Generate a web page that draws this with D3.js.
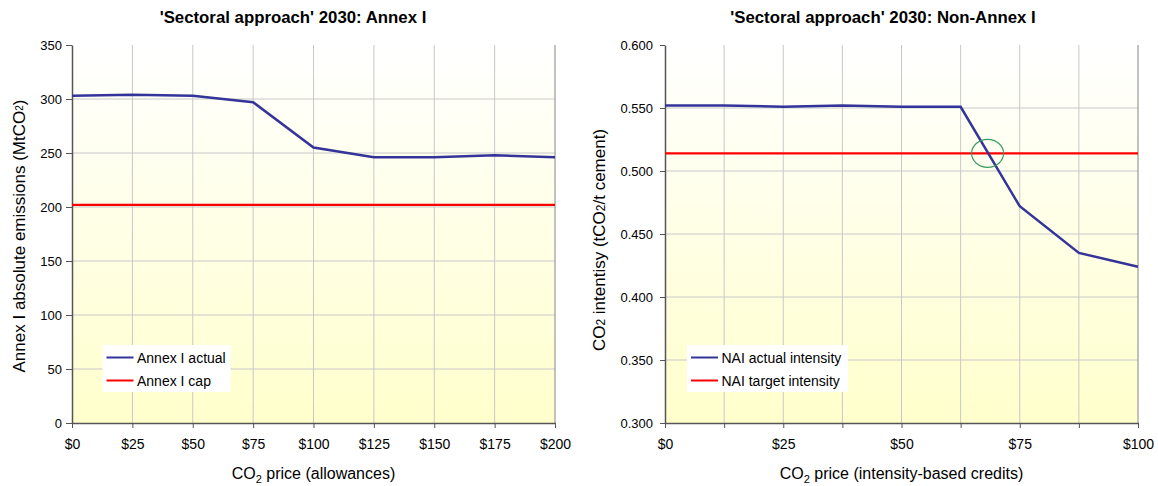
<!DOCTYPE html>
<html><head><meta charset="utf-8">
<script src="https://cdn.jsdelivr.net/npm/d3@7"></script>
<style>body{margin:0;background:#fff;font-family:"Liberation Sans",Arial,sans-serif}</style>
</head><body>
<svg id="c" width="1158" height="486" font-family="Liberation Sans, Arial, sans-serif"></svg>
<script>
const leftPrices = [0,25,50,75,100,125,150,175,200];
const leftActual = [303,304,303,297,255,246,246,248,246];
const leftCap = [202,202,202,202,202,202,202,202,202];
const leftYTicks = [0,50,100,150,200,250,300,350];
const leftXTicks = [0,25,50,75,100,125,150,175,200];

const rightPrices = [0,12.5,25,37.5,50,62.5,75,87.5,100];
const rightActual = [0.552,0.552,0.551,0.552,0.551,0.551,0.472,0.435,0.424];
const rightTarget = [0.514,0.514,0.514,0.514,0.514,0.514,0.514,0.514,0.514];
const rightYTicks = [0.30,0.35,0.40,0.45,0.50,0.55,0.60];
const rightXTicks = [0,12.5,25,37.5,50,62.5,75,87.5,100];
const rightXLabels = [0,25,50,75,100];
const crossingPrice = 68.2;

const svg = d3.select("#c");
const defs = svg.append("defs");
const grad = defs.append("linearGradient").attr("id","bg").attr("x1",0).attr("y1",0).attr("x2",0).attr("y2",1);
grad.append("stop").attr("offset","0%").attr("stop-color","#ffffff");
grad.append("stop").attr("offset","100%").attr("stop-color","#ffffcc");

function panel(o){
  const x = d3.scaleLinear().domain(o.xd).range([o.x0,o.x1]);
  const y = d3.scaleLinear().domain(o.yd).range([423,45]);
  const g = svg.append("g");
  g.append("rect").attr("x",o.x0).attr("y",45).attr("width",o.x1-o.x0).attr("height",378).attr("fill","url(#bg)");
  g.selectAll(".gx").data(o.xTicks.slice(1,-1)).enter().append("line")
    .attr("x1",d=>x(d)).attr("x2",d=>x(d)).attr("y1",45).attr("y2",423)
    .attr("stroke","#c8c8c8").attr("stroke-width",1);
  g.selectAll(".gy").data(o.yTicks.slice(1,-1)).enter().append("line")
    .attr("x1",o.x0).attr("x2",o.x1).attr("y1",d=>y(d)).attr("y2",d=>y(d))
    .attr("stroke","#c8c8c8").attr("stroke-width",1);
  g.append("line").attr("x1",o.x1).attr("x2",o.x1).attr("y1",45).attr("y2",423).attr("stroke","#999").attr("stroke-width",1.2);
  const ya = g.append("g").attr("transform",`translate(${o.x0},0)`)
    .call(d3.axisLeft(y).tickValues(o.yTicks).tickFormat(o.yFmt).tickSizeInner(o.yTick).tickSizeOuter(0).tickPadding(o.yPad));
  const xa = g.append("g").attr("transform",`translate(0,423)`)
    .call(d3.axisBottom(x).tickValues(o.xTicks).tickFormat(d=>o.xLabels.includes(d)?"$"+d:"").tickSizeInner(5).tickSizeOuter(0).tickPadding(11));
  [ya,xa].forEach(a=>{
    a.select(".domain").attr("stroke","#555").attr("stroke-width",1.5);
    a.selectAll(".tick line").attr("stroke","#555");
    a.selectAll("text").attr("font-family","Liberation Sans, Arial, sans-serif").attr("fill","#000");
  });
  ya.selectAll("text").attr("font-size",13);
  xa.selectAll("text").attr("font-size",14);
  const line = d3.line().x(d=>x(d[0])).y(d=>y(d[1]));
  g.append("path").datum(o.xs.map((v,i)=>[v,o.cap[i]])).attr("d",line).attr("fill","none").attr("stroke","#ff0000").attr("stroke-width",2.3);
  g.append("path").datum(o.xs.map((v,i)=>[v,o.act[i]])).attr("d",line).attr("fill","none").attr("stroke","#333399").attr("stroke-width",2.5);
  g.append("text").attr("x",o.tx).attr("y",23).attr("text-anchor","middle")
    .attr("font-weight","bold").attr("font-size",16.8).text(o.title);
  const xt = g.append("text").attr("x",(o.x0+o.x1)/2).attr("y",479).attr("text-anchor","middle").attr("font-size",16);
  xt.append("tspan").text("CO");
  xt.append("tspan").attr("font-size",11).attr("dy",4).text("2");
  xt.append("tspan").attr("dy",-4).text(o.xTitle);
  const yt = g.append("text").attr("transform",`translate(${o.yTx},${o.yTy}) rotate(-90)`).attr("text-anchor","middle").attr("font-size",17);
  o.yTitle(yt);
  const lg = g.append("g").attr("transform",`translate(${o.lx},345)`);
  lg.append("rect").attr("width",o.lw).attr("height",47).attr("fill","#fff");
  [["#333399",o.leg[0]],["#ff0000",o.leg[1]]].forEach((d,i)=>{
    lg.append("line").attr("x1",4).attr("x2",31).attr("y1",12.5+i*23).attr("y2",12.5+i*23).attr("stroke",d[0]).attr("stroke-width",2);
    lg.append("text").attr("x",34.5).attr("y",17.5+i*23).attr("font-size",14).text(d[1]);
  });
  return {x,y,g};
}

panel({x0:72,x1:555,xd:[0,200],yd:[0,350],xTicks:leftXTicks,xLabels:leftXTicks,yTicks:leftYTicks,
  yFmt:d3.format("d"),yTick:6,yPad:4,xs:leftPrices,act:leftActual,cap:leftCap,tx:293,
  title:"'Sectoral approach' 2030: Annex I",xTitle:" price (allowances)",yTx:25,yTy:236,
  yTitle:t=>{t.append("tspan").text("Annex I absolute emissions (MtCO");t.append("tspan").attr("font-size",10).attr("dy",-2).text("2");t.append("tspan").attr("dy",2).text(")");},
  lx:102.5,lw:128,leg:["Annex I actual","Annex I cap"]});

const rp = panel({x0:665,x1:1138,xd:[0,100],yd:[0.3,0.6],xTicks:rightXTicks,xLabels:rightXLabels,yTicks:rightYTicks,
  yFmt:d3.format(".3f"),yTick:5,yPad:7,xs:rightPrices,act:rightActual,cap:rightTarget,tx:883,
  title:"'Sectoral approach' 2030: Non-Annex I",xTitle:" price (intensity-based credits)",yTx:605,yTy:240,
  yTitle:t=>{t.append("tspan").text("CO");t.append("tspan").attr("font-size",12).text("2");t.append("tspan").text(" intentisy (tCO");t.append("tspan").attr("font-size",12).text("2");t.append("tspan").text("/t cement)");},
  lx:687,lw:161,leg:["NAI actual intensity","NAI target intensity"]});

rp.g.append("ellipse").attr("cx",rp.x(crossingPrice)).attr("cy",rp.y(rightTarget[0])).attr("rx",16).attr("ry",14)
  .attr("fill","none").attr("stroke","#3a9a60").attr("stroke-width",1.2);
</script>
</body></html>
